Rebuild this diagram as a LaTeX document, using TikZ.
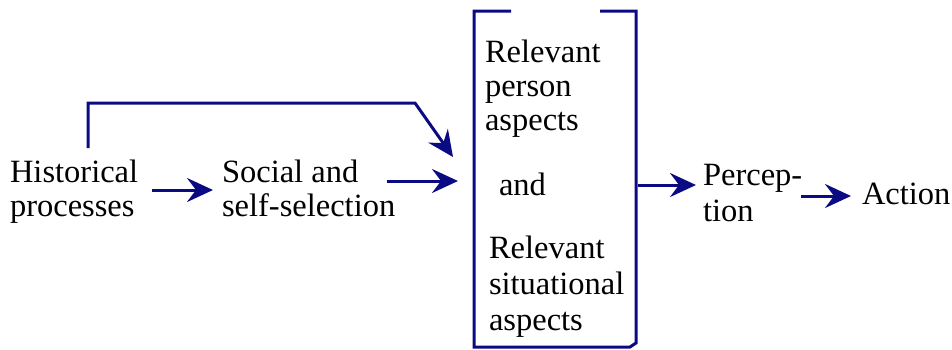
\documentclass[tikz,border=0pt]{standalone}
\usepackage{fontspec}
\setmainfont{Liberation Serif}
\newfontfamily\lblfont{Liberation Serif}
\usetikzlibrary{arrows.meta}
\definecolor{navyline}{RGB}{10,10,130}
\tikzset{
  lbl/.style={anchor=base west, inner sep=0pt, outer sep=0pt, align=left,
    font=\fontsize{32.5}{34}\lblfont},
  lblwide/.style={lbl, font=\fontsize{32.5}{36}\lblfont},
  conn/.style={draw=navyline, line width=3pt},
  arr/.style={conn, -{Stealth[length=26pt,width=24pt,inset=9pt]}}
}
\begin{document}
\begin{tikzpicture}[x=1pt,y=-1pt]
\useasboundingbox (0,0) rectangle (952,349);
% labels (anchor = baseline of last line)
\node[lbl] (hist) at (10,216) {Historical\\processes};
\node[lbl] (soc) at (222,216) {Social and\\self-selection};
\node[lbl] (pers) at (485,130) {Relevant\\person\\aspects};
\node[lbl] (and) at (499,195) {and};
\node[lblwide] (sit) at (489,330) {Relevant\\situational\\aspects};
\node[lblwide] (perc) at (703,221) {Percep-\\tion};
\node[lbl] (act) at (862,204) {Action};
% bracket
\coordinate (bTL) at (474,11);
\coordinate (bBL) at (474,347);
\coordinate (bTR) at (636,11);
\coordinate (bBR) at (636,343);
\draw[conn] (511,11) -- (bTL) -- (bBL) -- (630,347) -- (bBR) -- (bTR) -- (600,11);
% connectors
\coordinate (h1) at (152,190);
\coordinate (s0) at (213,190);
\draw[arr] (h1) -- (s0);
\coordinate (s1) at (387,181);
\coordinate (b0) at (458,181);
\draw[arr] (s1) -- (b0);
\coordinate (up0) at (88,148);
\coordinate (up1) at (88,103);
\coordinate (up2) at (415,103);
\coordinate (up3) at (453,157);
\draw[arr] (up0) -- (up1) -- (up2) -- (up3);
\coordinate (p0) at (638,185);
\coordinate (p1) at (696,185);
\draw[arr] (p0) -- (p1);
\coordinate (a0) at (801,196);
\coordinate (a1) at (851,196);
\draw[arr] (a0) -- (a1);
\end{tikzpicture}
\end{document}
